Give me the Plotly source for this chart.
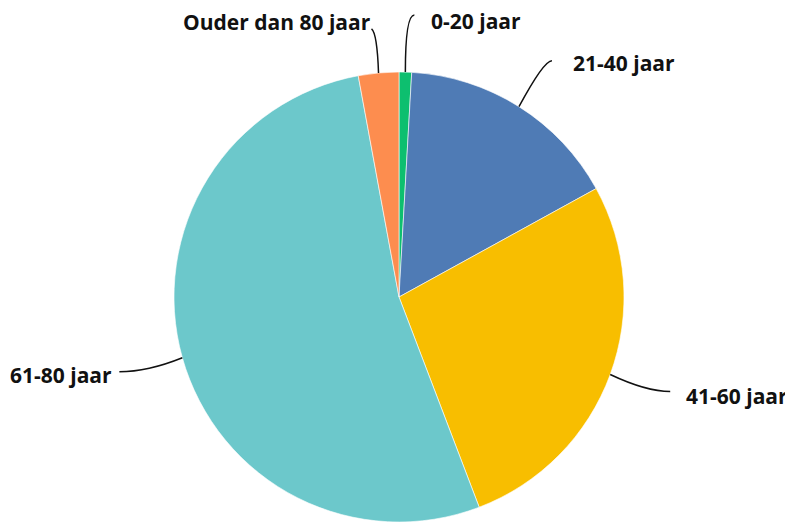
import math
import plotly.graph_objects as go

# ---- data ----
categories = ["0-20 jaar", "21-40 jaar", "41-60 jaar", "61-80 jaar", "Ouder dan 80 jaar"]
values = [0.9, 16.1, 27.2, 52.9, 2.9]
colors = ["#0DBF6F", "#4F7BB5", "#F8BE00", "#6CC8CB", "#FD8D4F"]

# ---- layout constants (screen pixels) ----
OFF = 8                      # default page body margin
W, H = 793 - OFF, 522 - OFF  # figure size
CX, CY, R = 399 - OFF, 297 - OFF, 225
# per-label leader line end offset from slice edge point, curve control, text offset
line_end = [(9, -57), (33, -46), (60, 17), (-63, 14), (-7, -44)]
ctrl_frac = [(0.0, 1.0), (0.75, 1.0), (0.6, 1.0), (0.55, 1.0), (0.2, 0.9)]
text_off = [(15, 6), (19, 2), (14, 4), (-5, 3), (1, -7)]
text_anchor = ["left", "left", "left", "right", "right"]

fig = go.Figure(go.Pie(
    labels=categories, values=values, sort=False, direction="clockwise", rotation=0,
    marker=dict(colors=colors, line=dict(color="white", width=0.6)),
    textinfo="none", hoverinfo="label+percent", showlegend=False,
    domain=dict(x=[(CX - R) / W, (CX + R) / W], y=[max(0, (H - CY - R) / H), (H - CY + R) / H]),
))

def px(x, y):
    return x / W, 1 - y / H

total = sum(values)
cum = 0.0
shapes, annotations = [], []
for i, (cat, v) in enumerate(zip(categories, values)):
    mid = (cum + v / 2) / total * 2 * math.pi
    cum += v
    sx, sy = CX + R * math.sin(mid), CY - R * math.cos(mid)
    ex, ey = sx + line_end[i][0], sy + line_end[i][1]
    cxp = sx + (ex - sx) * ctrl_frac[i][0]
    cyp = sy + (ey - sy) * ctrl_frac[i][1]
    a = px(sx, sy); b = px(cxp, cyp); c = px(ex, ey)
    shapes.append(dict(type="path", xref="paper", yref="paper",
                       path=f"M {a[0]},{a[1]} Q {b[0]},{b[1]} {c[0]},{c[1]}",
                       line=dict(color="#111111", width=1.5)))
    tx, ty = px(ex + text_off[i][0], ey + text_off[i][1])
    annotations.append(dict(x=tx, y=ty, xref="paper", yref="paper", text=f"<b>{cat}</b>",
                            showarrow=False, xanchor=text_anchor[i], yanchor="middle",
                            font=dict(family="Open Sans", size=21, color="#111111")))

fig.update_layout(width=W, height=H, margin=dict(l=0, r=0, t=0, b=0),
                  paper_bgcolor="white", plot_bgcolor="white",
                  shapes=shapes, annotations=annotations)
fig.write_html("out.html")
